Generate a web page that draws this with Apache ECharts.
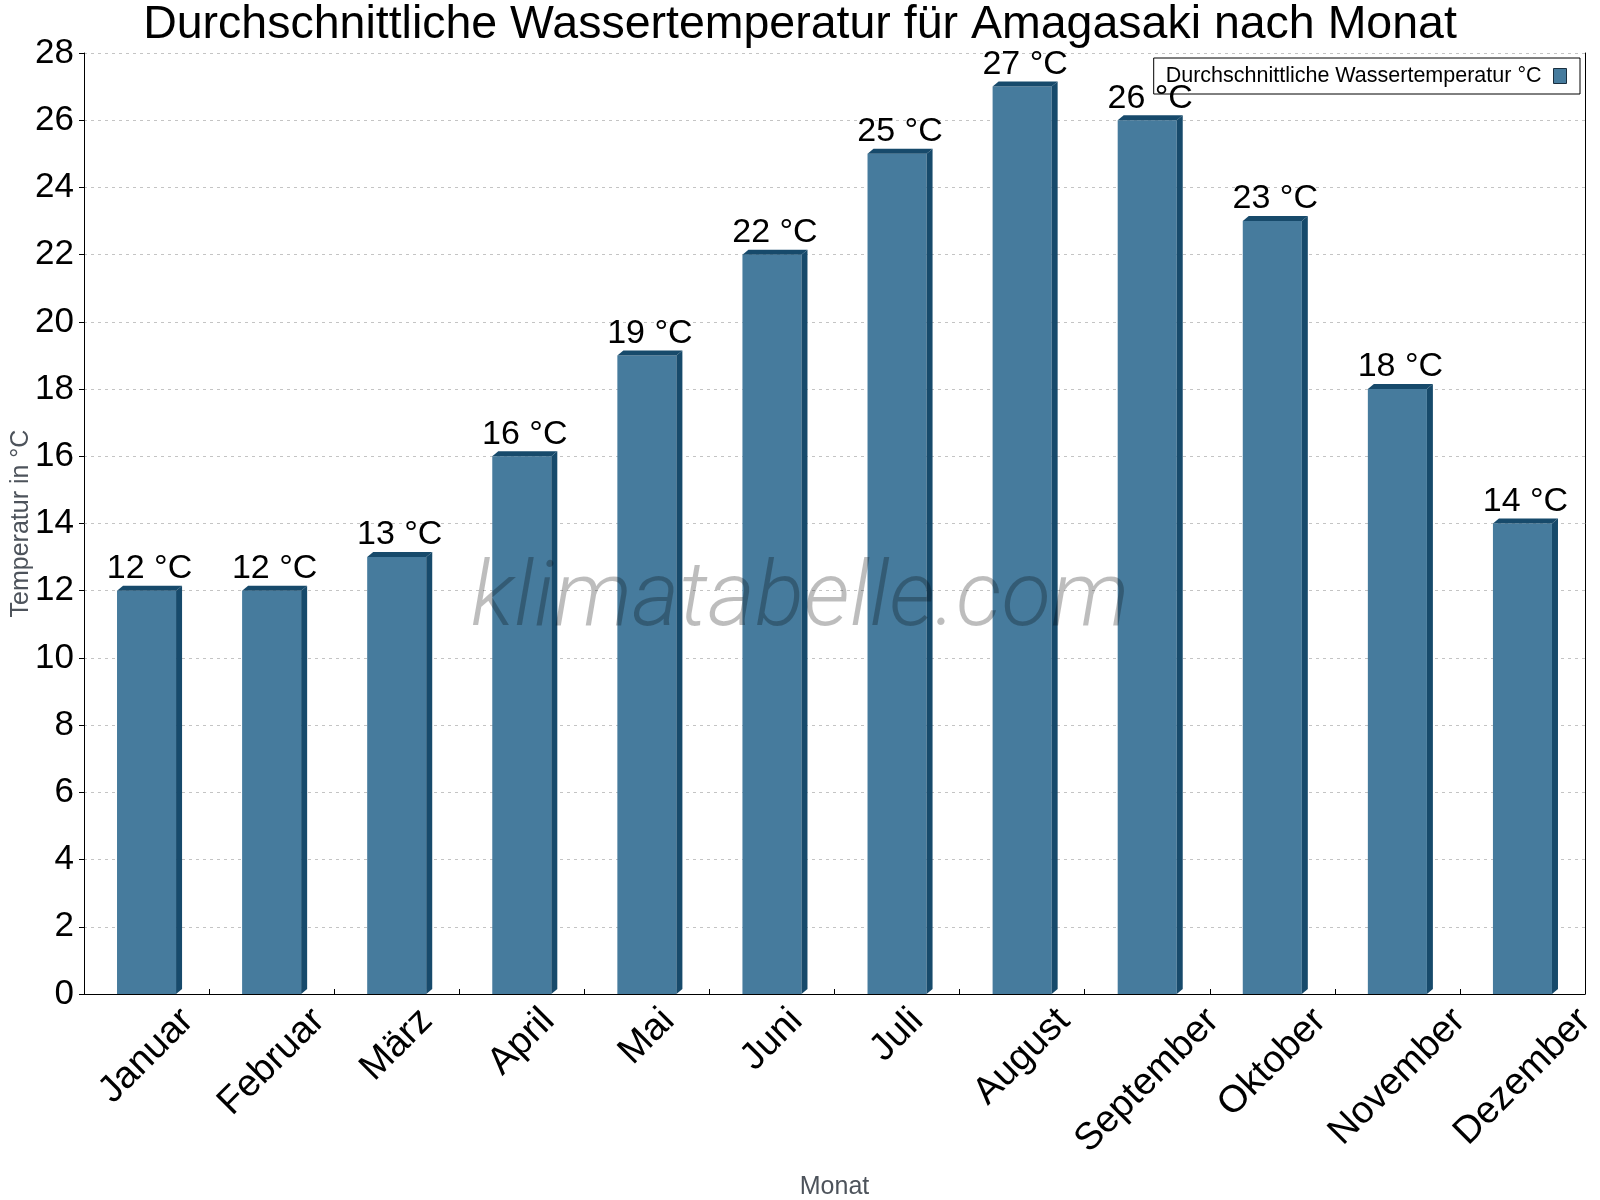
<!DOCTYPE html>
<html>
<head>
<meta charset="utf-8">
<script src="https://cdn.jsdelivr.net/npm/echarts@6/dist/echarts.min.js"></script>
<style>html,body{margin:0;padding:0;background:#fff}#chart{width:1600px;height:1200px}</style>
</head>
<body>
<div id="chart"></div>
<script>
const months = ['Januar','Februar','März','April','Mai','Juni','Juli','August','September','Oktober','November','Dezember'];
const waterTemp = [12,12,13,16,19,22,25,27,26,23,18,14];
const seriesName = 'Durchschnittliche Wassertemperatur °C';
const titleText = 'Durchschnittliche Wassertemperatur für Amagasaki nach Monat';
const yMin = 0, yMax = 28, yStep = 2;

const FACE = '#467b9d';
const DARK = '#174a6b';
const FONT = '"Liberation Sans", Arial, sans-serif';
const XLABEL_SIZE = 38;

// rotated month labels: keep the top of every rotated label at the same height
const measureCtx = document.createElement('canvas').getContext('2d');
measureCtx.font = XLABEL_SIZE + 'px "Liberation Sans", Arial, sans-serif';
const monthRich = {};
months.forEach((m, i) => {
  const L = measureCtx.measureText(m).width;
  monthRich['m' + i] = {
    fontSize: XLABEL_SIZE, fontFamily: FONT, color: '#000',
    padding: [L / 2, L / 2, 0, 0]
  };
});

const chart = echarts.init(document.getElementById('chart'));

function renderBar(params, api) {
  const i = api.value(0), v = api.value(1);
  const top = api.coord([i, v]);
  const base = api.coord([i, 0]);
  const band = api.size([1, 0])[0];
  const w = band * 0.472;
  const x0 = top[0] - w / 2, x1 = top[0] + w / 2;
  const dx = 6, dy = 5;
  return {
    type: 'group',
    children: [
      { type: 'rect', shape: { x: x0, y: top[1], width: w, height: base[1] - top[1] }, style: { fill: FACE } },
      { type: 'polygon', shape: { points: [[x0, top[1]], [x0 + dx, top[1] - dy], [x1 + dx, top[1] - dy], [x1, top[1]]] }, style: { fill: DARK } },
      { type: 'polygon', shape: { points: [[x1, top[1]], [x1 + dx, top[1] - dy], [x1 + dx, base[1] - dy], [x1, base[1]]] }, style: { fill: DARK } },
      { type: 'text', style: { text: v + ' °C', x: top[0] + 3, y: top[1] - 22, align: 'center', verticalAlign: 'middle', fill: '#000', fontSize: 34, fontFamily: FONT } }
    ]
  };
}

chart.setOption({
  animation: false,
  backgroundColor: '#fff',
  title: {
    text: titleText,
    left: 'center',
    top: -3,
    textStyle: { fontSize: 46.5, fontWeight: 'normal', color: '#000', fontFamily: FONT }
  },
  legend: {
    data: [{ name: seriesName, icon: 'rect' }],
    right: 20,
    top: 58,
    align: 'right',
    orient: 'horizontal',
    borderColor: '#000',
    borderWidth: 1,
    borderRadius: 0,
    padding: [7, 13, 7, 12],
    itemWidth: 13,
    itemHeight: 15,
    itemStyle: { borderColor: '#1a2f3f', borderWidth: 1 },
    textStyle: { fontSize: 21.5, color: '#000', fontFamily: FONT, padding: [0, 7, 0, 0] }
  },
  grid: { left: 84, right: 15, top: 53, bottom: 206, containLabel: false, outerBoundsMode: 'none' },
  xAxis: {
    type: 'category',
    data: months,
    name: 'Monat',
    nameLocation: 'middle',
    nameGap: 181,
    nameMoveOverlap: false,
    nameTextStyle: { fontSize: 25, color: '#4d535b', fontFamily: FONT },
    axisLine: { show: true, lineStyle: { color: '#000', width: 1 } },
    axisTick: { show: true, inside: true, length: 5, lineStyle: { color: '#000' } },
    axisLabel: {
      interval: 0,
      rotate: 45,
      fontSize: XLABEL_SIZE,
      color: '#000',
      fontFamily: FONT,
      align: 'center',
      verticalAlign: 'middle',
      margin: 21,
      formatter: (value, index) => '{m' + index + '|' + value + '}',
      rich: monthRich
    },
    splitLine: { show: false }
  },
  yAxis: [{
    type: 'value',
    min: yMin,
    max: yMax,
    interval: yStep,
    name: 'Temperatur in °C',
    nameLocation: 'middle',
    nameGap: 50,
    nameMoveOverlap: false,
    nameTextStyle: { fontSize: 25, color: '#4d535b', fontFamily: FONT },
    axisLine: { show: true, lineStyle: { color: '#000', width: 1 } },
    axisTick: { show: true, length: 5, lineStyle: { color: '#000' } },
    axisLabel: { fontSize: 35, color: '#000', fontFamily: FONT, margin: 10 },
    splitLine: { show: true, lineStyle: { color: '#c4c4c4', type: [3, 4], width: 1 } }
  }, {
    type: 'value',
    position: 'right',
    min: yMin,
    max: yMax,
    interval: yStep,
    axisLine: { show: true, lineStyle: { color: '#000', width: 1 } },
    axisTick: { show: false },
    axisLabel: { show: false },
    splitLine: { show: false }
  }],
  graphic: [{
    type: 'text',
    z: 100,
    left: 'center',
    top: 557,
    style: {
      text: 'klimatabelle.com',
      fontSize: 91,
      fontStyle: 'italic',
      fontWeight: 300,
      fontFamily: 'Roboto, "Open Sans", sans-serif',
      fill: 'rgba(0,0,0,0.26)'
    }
  }],
  series: [{
    name: seriesName,
    type: 'custom',
    renderItem: renderBar,
    itemStyle: { color: FACE },
    encode: { x: 0, y: 1 },
    data: waterTemp.map((v, i) => [i, v]),
    z: 2
  }]
});
</script>
</body>
</html>
